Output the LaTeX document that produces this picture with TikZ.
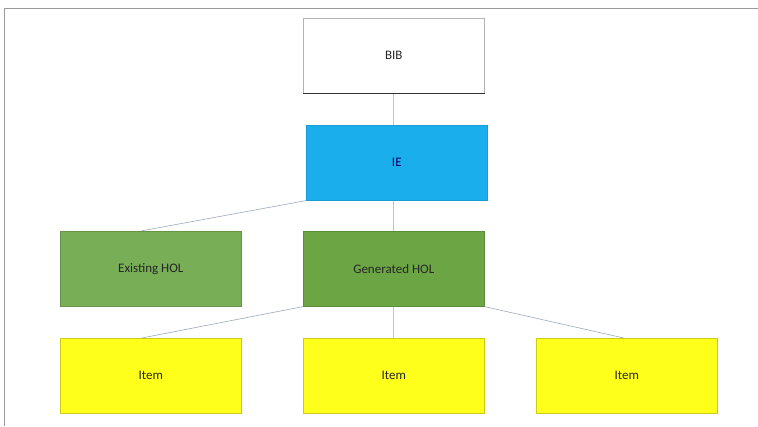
\documentclass[tikz,border=0pt]{standalone}
\usepackage{fontspec}
\setmainfont{Carlito}
\begin{document}
\begin{tikzpicture}[x=1pt,y=-1pt,
  box/.style={draw, line width=0.6pt, minimum width=181pt, minimum height=75pt, anchor=north west, inner sep=0pt, text=black!85, font=\fontsize{13}{15}\selectfont},
  conn/.style={draw=linec, line width=0.6pt},
  vconn/.style={draw=vlinec, line width=0.7pt}]
\definecolor{linec}{HTML}{9AAABB}
\definecolor{vlinec}{HTML}{BFC3C8}
\definecolor{framec}{HTML}{9A9A9A}
\definecolor{iec}{HTML}{1AAFEC}
\definecolor{greenA}{HTML}{78AE56}
\definecolor{greenB}{HTML}{6BA544}
\definecolor{yel}{HTML}{FFFF1C}
\useasboundingbox (0,0) rectangle (758,426);
\fill[white] (0,0) rectangle (758,426);
\draw[framec, line width=0.8pt] (4,426) -- (4,8) -- (758,8);
\node[box, draw=gray!60, fill=white] (bib) at (303,18) {BIB};
\draw[black!80, line width=1pt] (bib.south west) -- (bib.south east);
\node[box, draw=iec!90!black, fill=iec, text=blue!40!black] (ie) at (306,125) {IE};
\node[box, draw=greenA!85!black, fill=greenA] (ex) at (60,231) {Existing HOL};
\node[box, draw=greenB!85!black, fill=greenB] (gen) at (303,231) {Generated HOL};
\node[box, draw=yel!80!black, fill=yel] (i1) at (60,338) {Item};
\node[box, draw=yel!80!black, fill=yel] (i2) at (303,338) {Item};
\node[box, draw=yel!80!black, fill=yel] (i3) at (536,338) {Item};
\coordinate (exin) at ([xshift=-10pt]ex.north);
\coordinate (i1in) at ([xshift=-9pt]i1.north);
\coordinate (i3in) at ([xshift=-3pt]i3.north);
\draw[vconn] (bib.south) -- (ie.north -| bib.south);
\draw[conn] (ie.south west) -- (exin);
\draw[vconn] (ie.south -| gen.north) -- (gen.north);
\draw[conn] (gen.south west) -- (i1in);
\draw[vconn] (gen.south) -- (i2.north);
\draw[conn] (gen.south east) -- (i3in);
\end{tikzpicture}
\end{document}
